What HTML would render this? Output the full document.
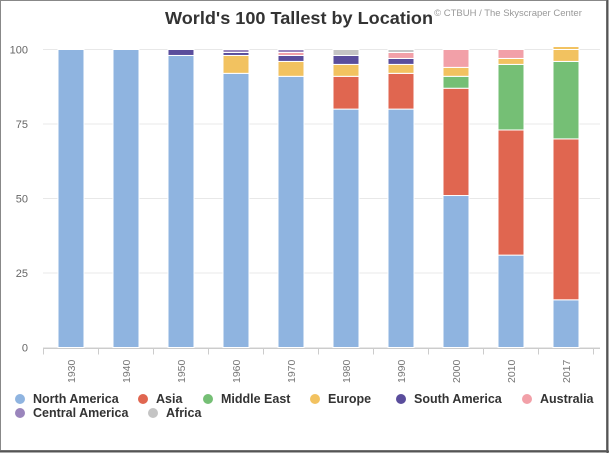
<!DOCTYPE html>
<html><head><meta charset="utf-8"><style>
html,body{margin:0;padding:0;background:#fff;}
svg{display:block;font-family:"Liberation Sans",sans-serif;}
</style></head><body>
<svg id="s" width="609" height="453" xmlns="http://www.w3.org/2000/svg">
<rect x="0.5" y="0.5" width="606" height="450" fill="#fff" stroke="#888"/>
<line x1="0" y1="451.5" x2="609" y2="451.5" stroke="#555" stroke-width="2"/>
<line x1="607.5" y1="0" x2="607.5" y2="453" stroke="#555" stroke-width="2"/>
<text x="299" y="24" text-anchor="middle" font-size="17.5" font-weight="bold" fill="#333" textLength="268" lengthAdjust="spacingAndGlyphs">World's 100 Tallest by Location</text>
<text x="508" y="16" text-anchor="middle" font-size="9.5" fill="#999">© CTBUH / The Skyscraper Center</text>
<g id="grid" stroke="#e8e8e8" stroke-width="1"></g>
<g id="bars"></g>
<g id="lab" font-size="11" fill="#666"></g>
<g id="leg" font-size="12.5" font-weight="bold" fill="#333"></g>
</svg>
<script>
var NS="http://www.w3.org/2000/svg";
function el(p,t,a,txt){var e=document.createElementNS(NS,t);for(var k in a)e.setAttribute(k,a[k]);if(txt)e.textContent=txt;document.getElementById(p).appendChild(e);return e;}
var y0=347.5,k=2.98;
[0,25,50,75,100].forEach(function(v){var y=y0-v*k;el('grid','line',{x1:43,x2:600,y1:y,y2:y});el('lab','text',{x:28,y:y+4,'text-anchor':'end'},String(v));});
el('grid','line',{x1:43,x2:600,y1:y0+1,y2:y0+1,stroke:'#ccc'});
var C={na:'#8fb4e0',as:'#e06650',me:'#75bf75',eu:'#f2c260',sa:'#5a4d9c',au:'#f2a0a8',ca:'#9a85bc',af:'#c4c4c4'};
var D=[
['1930',[['na',100]]],['1940',[['na',100]]],['1950',[['na',98],['sa',2]]],
['1960',[['na',92],['eu',6],['sa',1],['ca',1]]],
['1970',[['na',91],['eu',5],['sa',2],['au',1],['ca',1]]],
['1980',[['na',80],['as',11],['eu',4],['sa',3],['af',2]]],
['1990',[['na',80],['as',12],['eu',3],['sa',2],['au',2],['af',1]]],
['2000',[['na',51],['as',36],['me',4],['eu',3],['au',6]]],
['2010',[['na',31],['as',42],['me',22],['eu',2],['au',3]]],
['2017',[['na',16],['as',54],['me',26],['eu',4],['eu',1]]]];
D.forEach(function(d,i){var cx=71+i*55,acc=0;
 d[1].forEach(function(s){var yt=y0-(acc+s[1])*k,yb=y0-acc*k;el('bars','rect',{x:cx-13,y:yt,width:26,height:yb-yt,fill:C[s[0]],stroke:'#fff','stroke-width':1});acc+=s[1];});
 el('grid','line',{x1:cx+27.5,x2:cx+27.5,y1:y0+1,y2:y0+7,stroke:'#ccc'});
 el('lab','text',{x:0,y:0,transform:'translate('+(cx+4)+',383) rotate(-90)','font-size':'10.5',fill:'#777'},d[0]);});
el('grid','line',{x1:43.5,x2:43.5,y1:y0+1,y2:y0+7,stroke:'#ccc'});
var L=[['na','North America',20,403],['as','Asia',143,403],['me','Middle East',208,403],['eu','Europe',315,403],['sa','South America',401,403],['au','Australia',527,403],['ca','Central America',20,417],['af','Africa',153,417]];
L.forEach(function(l){el('leg','circle',{cx:l[2],cy:l[3]-4,r:5,fill:C[l[0]]});el('leg','text',{x:l[2]+13,y:l[3]},l[1]);});
</script>
</body></html>
